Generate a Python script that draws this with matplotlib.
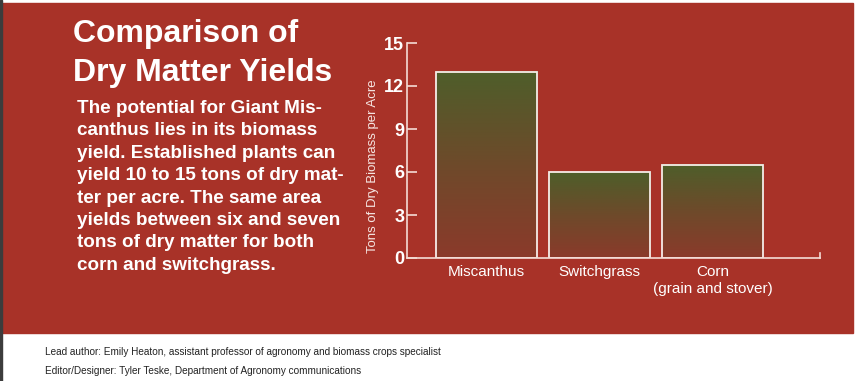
import numpy as np
import matplotlib
matplotlib.use("Agg")
import matplotlib.pyplot as plt
from matplotlib.patches import Rectangle
from matplotlib.colors import LinearSegmentedColormap

# donnees
crops = ["Miscanthus", "Switchgrass", "Corn\n(grain and stover)"]
yields = [13, 6, 6.5]
yticks = [0, 3, 6, 9, 12, 15]

title_lines = ["Comparison of", "Dry Matter Yields"]
body_lines = [
    "The potential for Giant Mis-",
    "canthus lies in its biomass",
    "yield. Established plants can",
    "yield 10 to 15 tons of dry mat-",
    "ter per acre. The same area",
    "yields between six and seven",
    "tons of dry matter for both",
    "corn and switchgrass.",
]
credits = [
    "Lead author: Emily Heaton, assistant professor of agronomy and biomass crops specialist",
    "Editor/Designer: Tyler Teske, Department of Agronomy communications",
]

RED = "#a83228"
AXIS = "#f4dcd6"
W, H = 856, 381

plt.rcParams["font.family"] = ["Liberation Sans", "DejaVu Sans"]

fig = plt.figure(figsize=(W / 100, H / 100), dpi=100)
fig.patch.set_facecolor("white")


def fx(x):
    return x / W


def fy(y):
    return 1 - y / H


# fond rouge + bord gauche sombre (sous les axes)
fig.patches.append(Rectangle((fx(2), fy(333)), fx(851), 330 / H,
                             transform=fig.transFigure, color=RED, zorder=-2))
fig.patches.append(Rectangle((0, 0), fx(2), 1, transform=fig.transFigure,
                             color="#3c3c3c", zorder=-2))

# titre et texte
for k, line in enumerate(title_lines):
    fig.text(fx(73), fy(42 + 39 * k), line, fontsize=23, fontweight="bold",
             color="white", va="baseline")
for k, line in enumerate(body_lines):
    fig.text(fx(77), fy(113 + 22.4 * k), line, fontsize=13.6, fontweight="bold",
             color="white", va="baseline")
for k, line in enumerate(credits):
    fig.text(fx(45), fy(355 + 19 * k), line, fontsize=7.2, color="#222222",
             va="baseline")

# graphique
ax = fig.add_axes([fx(407), 123 / H, 413 / W, 215 / H])
ax.patch.set_alpha(0)

cmap = LinearSegmentedColormap.from_list("bar", ["#8b3a2b", "#6e4a2a", "#4e5e2a"])
grad = np.linspace(0, 1, 256).reshape(-1, 1)
bw = 0.894
for i, v in enumerate(yields):
    ax.imshow(grad, extent=[i - bw / 2, i + bw / 2, 0, v], origin="lower",
              aspect="auto", cmap=cmap, zorder=1)
ax.bar(range(len(yields)), yields, width=bw, fill=False,
       edgecolor="#f7ece8", linewidth=1.3, zorder=2)

ax.set_xlim(-0.70, 2.95)
ax.set_ylim(0, 15)

for s in ["top", "right"]:
    ax.spines[s].set_visible(False)
for s in ["left", "bottom"]:
    ax.spines[s].set_color(AXIS)
    ax.spines[s].set_linewidth(1.2)
ax.plot([1, 1], [0, 0.025], transform=ax.transAxes, color=AXIS,
        linewidth=1.2, clip_on=False)

ax.set_yticks(yticks)
ax.set_yticklabels([str(t) for t in yticks], fontweight="bold")
ax.tick_params(axis="y", direction="in", length=7.2, width=1.2, color=AXIS,
               labelcolor="white", labelsize=13, pad=2)
ax.set_xticks(range(len(crops)))
ax.set_xticklabels(crops, linespacing=1.25)
ax.tick_params(axis="x", length=0, pad=5, labelsize=11, labelcolor="white")

ax.text(-0.082, (258 - 166.5) / 215, "Tons of Dry Biomass per Acre",
        transform=ax.transAxes, rotation=90, ha="center", va="center",
        fontsize=9.5, color="#f6e6e2")

fig.savefig("out.png", dpi=100)
